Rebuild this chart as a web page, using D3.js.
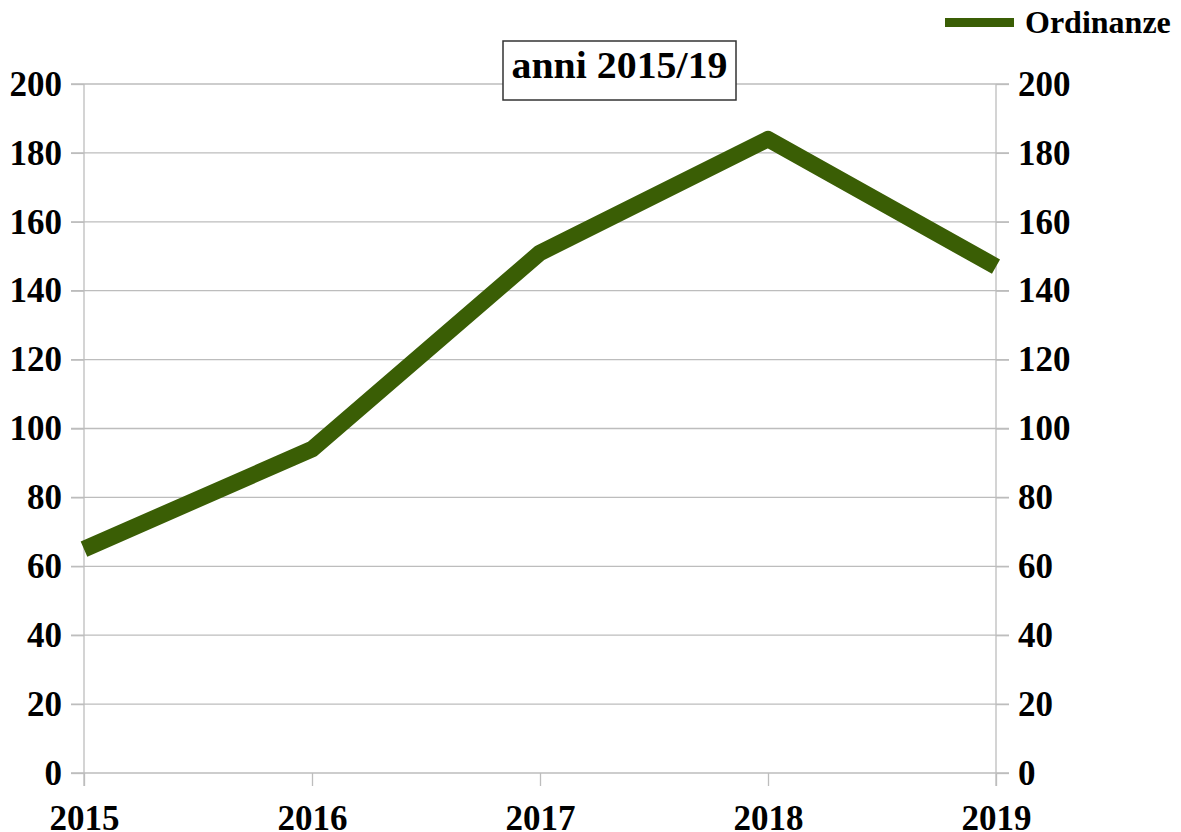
<!DOCTYPE html>
<html>
<head>
<meta charset="utf-8">
<script src="https://cdn.jsdelivr.net/npm/d3@7"></script>
<style>
  body { margin: 0; background: #fff; }
  svg text { font-family: "Liberation Serif", "Times New Roman", serif; font-weight: bold; fill: #000; }
</style>
</head>
<body>
<svg id="chart"></svg>
<script>
// Data
const years = ["2015", "2016", "2017", "2018", "2019"]
const ordinanze = [65, 94, 151, 184, 147]
const yTicks = [0, 20, 40, 60, 80, 100, 120, 140, 160, 180, 200]
const seriesName = "Ordinanze"
const title = "anni 2015/19"

const width = 1181
const height = 832
const lineColor = "#3a5e05"
const gridColor = "#bdbdbd"

const svg = d3.select("#chart")
  .attr("width", width)
  .attr("height", height)

// Scales
const x = d3.scalePoint()
  .domain(years)
  .range([84, 996])

const y = d3.scaleLinear()
  .domain([0, 200])
  .range([773, 84])

// Horizontal gridlines
svg.append("g")
  .selectAll("line")
  .data(yTicks)
  .join("line")
  .attr("x1", 71)
  .attr("x2", 1009)
  .attr("y1", d => y(d))
  .attr("y2", d => y(d))
  .attr("stroke", gridColor)
  .attr("stroke-width", 1.3)

// Left and right vertical axis lines
svg.append("g")
  .selectAll("line")
  .data([years[0], years[years.length - 1]])
  .join("line")
  .attr("x1", d => x(d))
  .attr("x2", d => x(d))
  .attr("y1", y(200))
  .attr("y2", y(0) + 13)
  .attr("stroke", gridColor)
  .attr("stroke-width", 1.3)

// Left axis labels
svg.append("g")
  .attr("transform", `translate(${x(years[0])}, 0)`)
  .call(d3.axisLeft(y).tickValues(yTicks).tickSize(13).tickPadding(9))
  .call(g => g.select(".domain").remove())
  .call(g => g.selectAll(".tick line").attr("stroke", gridColor).attr("stroke-width", 1.3))
  .call(g => g.selectAll(".tick text")
    .attr("font-size", 35)
    .attr("font-family", "Liberation Serif")
    .attr("fill", "#000"))

// Right axis labels
svg.append("g")
  .attr("transform", `translate(${x(years[years.length - 1])}, 0)`)
  .call(d3.axisRight(y).tickValues(yTicks).tickSize(13).tickPadding(9))
  .call(g => g.select(".domain").remove())
  .call(g => g.selectAll(".tick line").attr("stroke", gridColor).attr("stroke-width", 1.3))
  .call(g => g.selectAll(".tick text")
    .attr("font-size", 35)
    .attr("font-family", "Liberation Serif")
    .attr("fill", "#000"))

// Bottom axis
svg.append("g")
  .attr("transform", `translate(0, ${y(0)})`)
  .call(d3.axisBottom(x).tickSize(13).tickPadding(19))
  .call(g => g.select(".domain").remove())
  .call(g => g.selectAll(".tick line").attr("stroke", gridColor).attr("stroke-width", 1.3))
  .call(g => g.selectAll(".tick text")
    .attr("font-size", 35)
    .attr("font-family", "Liberation Serif")
    .attr("fill", "#000"))

// Series line
const line = d3.line()
  .x((d, i) => x(years[i]))
  .y(d => y(d))

svg.append("path")
  .datum(ordinanze)
  .attr("d", line)
  .attr("fill", "none")
  .attr("stroke", lineColor)
  .attr("stroke-width", 16.5)
  .attr("stroke-linejoin", "round")

// Title box
const titleG = svg.append("g")
titleG.append("rect")
  .attr("x", 503)
  .attr("y", 41)
  .attr("width", 233)
  .attr("height", 59)
  .attr("fill", "#fff")
  .attr("stroke", "#333")
  .attr("stroke-width", 1.5)
titleG.append("text")
  .attr("x", 619.5)
  .attr("y", 78)
  .attr("text-anchor", "middle")
  .attr("font-size", 38)
  .attr("textLength", 216)
  .attr("lengthAdjust", "spacingAndGlyphs")
  .text(title)

// Legend
const legend = svg.append("g")
legend.append("line")
  .attr("x1", 945)
  .attr("x2", 1014)
  .attr("y1", 22.5)
  .attr("y2", 22.5)
  .attr("stroke", lineColor)
  .attr("stroke-width", 9)
legend.append("text")
  .attr("x", 1025)
  .attr("y", 33)
  .attr("font-size", 32)
  .text(seriesName)
</script>
</body>
</html>
